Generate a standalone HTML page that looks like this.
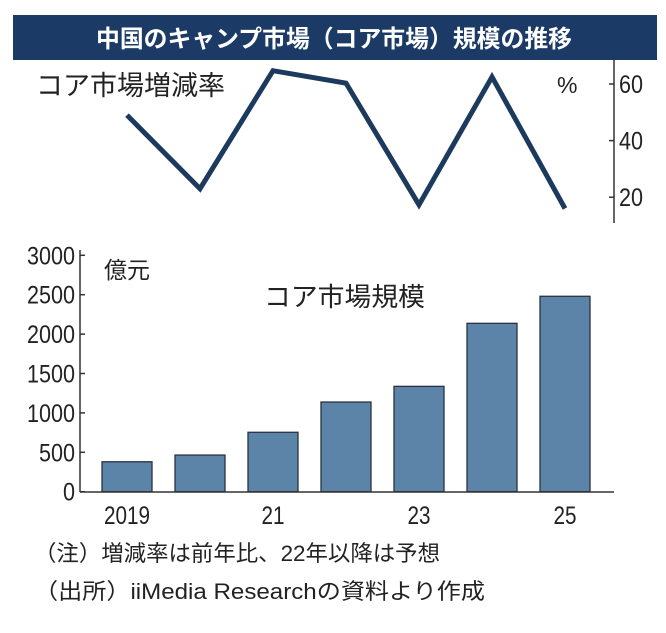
<!DOCTYPE html>
<html><head><meta charset="utf-8">
<style>
body{margin:0;background:#fff;width:666px;height:628px;overflow:hidden;font-family:"Liberation Sans","Noto Sans CJK JP",sans-serif;}
svg text{font-family:"Liberation Sans","Noto Sans CJK JP",sans-serif;}
</style></head><body>
<svg id="c" width="666" height="628">
<rect x="13" y="15" width="644" height="45" fill="#1b3a66"/>
<text x="334" y="47" text-anchor="middle" fill="#fff" font-size="24" font-weight="bold" textLength="476" lengthAdjust="spacingAndGlyphs">中国のキャンプ市場（コア市場）規模の推移</text>
<text x="36" y="95" font-size="27" fill="#222" textLength="189" lengthAdjust="spacingAndGlyphs">コア市場増減率</text>
<text x="557" y="93" font-size="23" fill="#222">%</text>
<line x1="614" y1="59" x2="614" y2="223" stroke="#333" stroke-width="1.5"/>
<g id="lt"></g>
<polyline id="ln" fill="none" stroke="#1c3a5e" stroke-width="5" stroke-linejoin="miter"/>
<text x="104" y="278" font-size="23" fill="#222">億元</text>
<text x="264" y="306" font-size="26" fill="#222" textLength="161" lengthAdjust="spacingAndGlyphs">コア市場規模</text>
<g id="bars"></g>
<g id="bt"></g>
<line x1="80" y1="250" x2="80" y2="492" stroke="#333" stroke-width="1.5"/>
<line x1="80" y1="492" x2="614" y2="492" stroke="#333" stroke-width="1.5"/>
<text x="34" y="561" font-size="22" fill="#222" textLength="406" lengthAdjust="spacingAndGlyphs">（注）増減率は前年比、22年以降は予想</text>
<text x="34" y="599" font-size="22" fill="#222" textLength="451" lengthAdjust="spacingAndGlyphs">（出所）iiMedia Researchの資料より作成</text>
</svg>
<script>
const years=["2019","2020","21","2022","23","2024","25"];
const xLabels=["2019","","21","","23","","25"];
const sizes=[380,465,754,1138,1337,2137,2480];
const rates=[49,23,64.7,60.3,17.3,62.5,16];
const rateTicks=[20,40,60];
const sizeTicks=[0,500,1000,1500,2000,2500,3000];
const NS="http://www.w3.org/2000/svg";
function xs(i){return 127+i*73;}
function yr(v){return 84+(60-v)*2.83;}
function yb(v){return 491.7-v*0.0788;}
function mk(t,a,p){const e=document.createElementNS(NS,t);for(const k in a)e.setAttribute(k,a[k]);p.appendChild(e);return e;}
const lt=document.getElementById('lt');
rateTicks.forEach(v=>{
 const l=mk('line',{x1:609,x2:614,y1:yr(v),y2:yr(v),stroke:'#333','stroke-width':1.5},lt);
 
 
 const s=String(v);
 const t=mk('text',{x:619,y:yr(v)+9,'font-size':25,fill:'#222',textLength:s.length*12,lengthAdjust:'spacingAndGlyphs'},lt);t.textContent=s;
 
 
});
document.getElementById('ln').setAttribute('points',rates.map((v,i)=>xs(i)+','+yr(v)).join(' '));
const bars=document.getElementById('bars');
sizes.forEach((v,i)=>{
 const r=mk('rect',{x:xs(i)-25,y:yb(v),width:50,height:491.7-yb(v),fill:'#5b84a8',stroke:'#2a3240','stroke-width':1.3},bars);
 
 
});
const bt=document.getElementById('bt');
sizeTicks.forEach(v=>{
 const l=mk('line',{x1:80,x2:85,y1:yb(v),y2:yb(v),stroke:'#333','stroke-width':1.5},bt);
 
 
 const s=String(v);
 const t=mk('text',{x:75-s.length*12,y:yb(v)+9,'font-size':25,fill:'#222',textLength:s.length*12,lengthAdjust:'spacingAndGlyphs'},bt);t.textContent=s;
 
 
});
xLabels.forEach((s,i)=>{if(!s)return;
 const w=s.length*11.5;
 const t=mk('text',{x:xs(i)-w/2,y:524,'font-size':25,fill:'#222',textLength:w,lengthAdjust:'spacingAndGlyphs'},bt);t.textContent=s;
 
 
});
</script>
</body></html>
